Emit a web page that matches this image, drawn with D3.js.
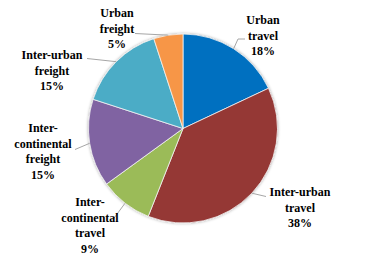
<!DOCTYPE html>
<html>
<head>
<meta charset="utf-8">
<script src="https://cdn.jsdelivr.net/npm/d3@7"></script>
<style>
  html, body { margin: 0; padding: 0; background: #fff; }
  svg { display: block; }
  .leader { fill: none; stroke: #a6a6a6; stroke-width: 1; }
</style>
</head>
<body>
<svg id="chart" width="366" height="260"></svg>
<script>
// data
const categories = ["Urban travel", "Inter-urban travel", "Inter-continental travel",
                    "Inter-continental freight", "Inter-urban freight", "Urban freight"];
const values = [18, 38, 9, 15, 15, 5];
const labelLines = [["Urban", "travel"], ["Inter-urban", "travel"], ["Inter-", "continental", "travel"],
                    ["Inter-", "continental", "freight"], ["Inter-urban", "freight"], ["Urban", "freight"]];
const colors = ["#0070C0", "#953735", "#9BBB59", "#8064A2", "#4BACC6", "#F79646"];

// layout: label centre of first line (relative to pie centre) and leader path end points
const labelAt = [[80, -108.5], [117, 63.5], [-93, 73.5], [-140, -0.5], [-131, -73.5], [-66, -115.5]];
const leaderTo = [[[55, -89.5], [62, -89.5]], [[83, 68]], [[-70, 91]], [[-108, 21]], [[-96, -70]], [[-48, -95]]];

function pie_chart(id, cx, cy, r) {
    let svg = d3.select(`#${id}`);

    let defs = svg.append("defs");
    let f = defs.append("filter").attr("id", "glow")
        .attr("x", "-20%").attr("y", "-20%").attr("width", "140%").attr("height", "140%");
    f.append("feDropShadow").attr("dx", 0).attr("dy", 0).attr("stdDeviation", 1.6)
        .attr("flood-color", "#000").attr("flood-opacity", 0.35);

    let total = d3.sum(values);
    let pie = d3.pie().sort(null).value(d => d)(values);
    let arc = d3.arc().innerRadius(0).outerRadius(r);
    let edge = d3.arc().innerRadius(r).outerRadius(r);

    let g = svg.append("g").attr("transform", `translate(${cx},${cy})`);

    g.append("g").attr("filter", "url(#glow)")
        .selectAll("path")
        .data(pie)
        .enter()
        .append("path")
        .attr("d", arc)
        .style("fill", (d, i) => colors[i])
        .style("stroke", "#f2f2f2")
        .style("stroke-width", 0.8);

    g.selectAll(".leader")
        .data(pie)
        .enter()
        .append("polyline")
        .attr("class", "leader")
        .attr("points", (d, i) => [edge.centroid(d)].concat(leaderTo[i]).map(p => p.join(",")).join(" "));

    let labels = g.selectAll(".lbl")
        .data(pie)
        .enter()
        .append("text")
        .attr("class", "lbl")
        .attr("font-family", "Liberation Serif, Tinos, DejaVu Serif, serif")
        .attr("font-weight", "bold")
        .attr("font-size", 12)
        .attr("fill", "#000")
        .attr("text-anchor", "middle")
        .attr("transform", (d, i) => `translate(${labelAt[i][0]},${labelAt[i][1]})`);

    labels.each(function(d, i) {
        let lines = labelLines[i].concat([Math.round(d.value / total * 100) + "%"]);
        d3.select(this).selectAll("tspan")
            .data(lines)
            .enter()
            .append("tspan")
            .attr("x", 0)
            .attr("dy", (t, j) => j === 0 ? "0.35em" : 15.5)
            .text(t => t);
    });
}

pie_chart("chart", 183, 128.5, 94.5);
</script>
</body>
</html>
